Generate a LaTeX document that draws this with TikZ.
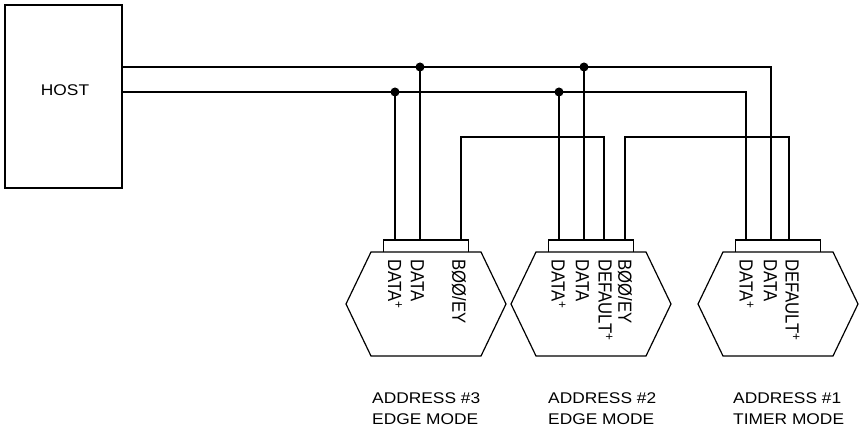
\documentclass[tikz,border=0pt]{standalone}
\usepackage{fontspec}
\newfontfamily\rotulo[FakeStretch=1.12]{Liberation Sans}
\newfontfamily\pinfuente[FakeStretch=0.88]{Liberation Sans}
\begin{document}
\begin{tikzpicture}[x=1pt,y=-1pt]
% estilos de linea y texto
\tikzstyle{caja} = [line width=1.2pt]
\tikzstyle{cable} = [line width=1.4pt]
\tikzstyle{nudo} = [fill=black]
\tikzstyle{pin} = [rotate=-90,anchor=west,inner sep=0pt,font=\pinfuente\fontsize{19}{19}\selectfont]
\tikzstyle{rotu} = [anchor=north west,inner sep=0pt,align=left,font=\rotulo\fontsize{15.5}{21}\selectfont]
\useasboundingbox (0,0) rectangle (860,435);
% definicion dispositivo
% #1: nombre del dispositivo
% #2: abscisa del centro
\newcommand{\dispositivo}[2]{
\coordinate (#1) at (#2,304);
\draw[caja] (#1) ++(-55,-52) -- ++(110,0) -- ++(25,52) -- ++(-25,52)
 -- ++(-110,0) -- ++(-25,-52) -- cycle;
\draw[caja] (#1) ++(-42.5,-52) -- ++(0,-12) -- ++(85,0) -- ++(0,12);
 }
% dibujar host
\node[draw,line width=1.5pt,minimum width=117pt,minimum height=183pt,inner sep=0pt] (host) at (63.5,96.5) {};
\node[font=\rotulo\fontsize{15.5}{15.5}\selectfont] (hostt) at (65,90) {HOST};
% dibujar dispositivos
\dispositivo{d3}{426}
\dispositivo{d2}{591}
\dispositivo{d1}{778}
% patas de los dispositivos
\coordinate (d3a) at (395,240);
\coordinate (d3b) at (420,240);
\coordinate (d3c) at (461,240);
\coordinate (d2a) at (559,240);
\coordinate (d2b) at (584,240);
\coordinate (d2c) at (604,240);
\coordinate (d2d) at (625,240);
\coordinate (d1a) at (746,240);
\coordinate (d1b) at (771,240);
\coordinate (d1c) at (789,240);
% nudos del bus
\coordinate (j3a) at (395,92);
\coordinate (j3b) at (420,67);
\coordinate (j2a) at (559,92);
\coordinate (j2b) at (584,67);
\coordinate (r3) at (604,137);
\coordinate (r2) at (789,137);
% dibujar cables
\draw[cable] (host.east |- j3b) -| (d1b);
\draw[cable] (host.east |- j3a) -| (d1a);
\draw[cable] (j3a) -- (d3a);
\draw[cable] (j3b) -- (d3b);
\draw[cable] (j2a) -- (d2a);
\draw[cable] (j2b) -- (d2b);
\draw[cable] (d3c) |- (r3) -- (d2c);
\draw[cable] (d2d) |- (r2) -- (d1c);
\fill[nudo] (j3a) circle (4.5pt);
\fill[nudo] (j3b) circle (4.5pt);
\fill[nudo] (j2a) circle (4.5pt);
\fill[nudo] (j2b) circle (4.5pt);
% rotulos de las patas
\node[pin] (p3a) at (395,259) {DATA\textsuperscript{+}};
\node[pin] (p3b) at (417.5,259) {DATA};
\node[pin] (p3c) at (459,259) {BØØ/EY};
\node[pin] (p2a) at (558.5,259) {DATA\textsuperscript{+}};
\node[pin] (p2b) at (582.5,259) {DATA};
\node[pin] (p2c) at (605.5,259) {DEFAULT\textsuperscript{+}};
\node[pin] (p2d) at (625,259) {BØØ/EY};
\node[pin] (p1a) at (746.5,259) {DATA\textsuperscript{+}};
\node[pin] (p1b) at (770.5,259) {DATA};
\node[pin] (p1c) at (792.5,259) {DEFAULT\textsuperscript{+}};
% rotulos de direccion
\node[rotu] (e3) at (372,392) {ADDRESS \#3\\EDGE MODE};
\node[rotu] (e2) at (548,392) {ADDRESS \#2\\EDGE MODE};
\node[rotu] (e1) at (733,392) {ADDRESS \#1\\TIMER MODE};
\end{tikzpicture}
\end{document}
